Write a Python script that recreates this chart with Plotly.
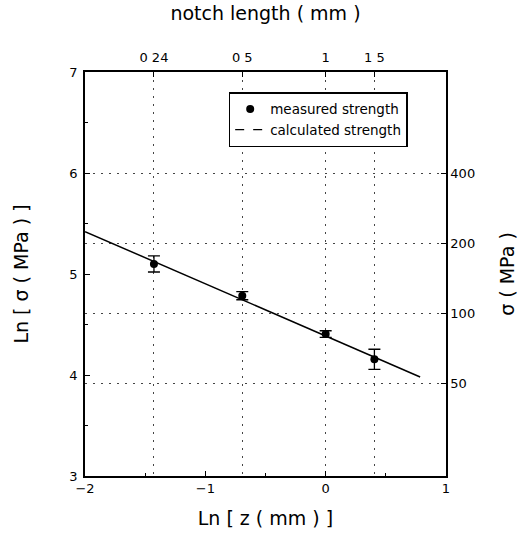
import numpy as np
import plotly.graph_objects as go

# Data
ln_z = [-1.427, -0.693, 0.0, 0.405]
ln_sigma = [5.10, 4.785, 4.405, 4.155]
err = [0.08, 0.04, 0.033, 0.10]

fit_x = [-2.0, 0.785]
fit_y = [5.42, 3.98]

notch_vals = [0.24, 0.5, 1, 1.5]
notch_text = ["0 24", "0 5", "1", "1 5"]
sigma_vals = [50, 100, 200, 400]
sigma_text = ["50", "100", "200", "400"]

FONT = "DejaVu Sans, Liberation Sans, Arial, sans-serif"

fig = go.Figure()

fig.add_trace(go.Scatter(
    x=fit_x, y=fit_y, mode="lines",
    line=dict(color="black", width=1.5), showlegend=False))

fig.add_trace(go.Scatter(
    x=ln_z, y=ln_sigma, mode="markers",
    marker=dict(color="black", size=8, symbol="circle"),
    error_y=dict(type="data", array=err, visible=True, color="black",
                 thickness=1.3, width=6),
    name="measured strength"))

fig.add_trace(go.Scatter(
    x=[None], y=[None], mode="lines",
    line=dict(color="black", width=1.3, dash="dash"),
    name="calculated strength"))

# dummy trace to activate secondary axes
fig.add_trace(go.Scatter(x=[None], y=[None], xaxis="x2", yaxis="y2", showlegend=False))

axis_common = dict(showline=True, linecolor="black", linewidth=1.5,
                   ticks="inside", tickcolor="black", ticklen=5,
                   tickfont=dict(family=FONT, size=13, color="black"),
                   zeroline=False, automargin=False)

GRID = dict(showgrid=True, gridcolor="#444", griddash="2px,6px", gridwidth=1)

fig.update_layout(
    width=519, height=547,
    margin=dict(l=85, r=73, t=72, b=71),
    paper_bgcolor="white", plot_bgcolor="white",
    font=dict(family=FONT, color="black"),
    xaxis=dict(range=[-2, 1], tickvals=[-2, -1, 0, 1], showgrid=False,
               minor=dict(ticks="inside", dtick=0.5, ticklen=3, tickcolor="black"),
               title=dict(text="Ln [ z ( mm ) ]", font=dict(size=19), standoff=16),
               **axis_common),
    xaxis2=dict(range=[-2, 1], overlaying="x", side="top",
                tickvals=list(np.log(notch_vals)), ticktext=notch_text,
                ticklabelstandoff=3,
                title=dict(text="notch length ( mm )", font=dict(size=19), standoff=24),
                **GRID, **axis_common),
    yaxis=dict(range=[3, 7], tickvals=[3, 4, 5, 6, 7], showgrid=False,
               minor=dict(ticks="inside", dtick=0.5, ticklen=3, tickcolor="black"),
               ticklabelstandoff=3,
               title=dict(text="Ln [ σ ( MPa ) ]", font=dict(size=19), standoff=36),
               **axis_common),
    yaxis2=dict(range=[3, 7], overlaying="y", side="right",
                tickvals=list(np.log(sigma_vals)), ticktext=sigma_text,
                title=dict(text="σ ( MPa )", font=dict(size=19), standoff=27),
                **GRID, **axis_common),
    legend=dict(x=0.398, y=0.95, xanchor="left", yanchor="top",
                bgcolor="white", bordercolor="black", borderwidth=1.5,
                font=dict(family=FONT, size=13.5, color="black"),
                tracegroupgap=0),
)

fig.write_html("out.html")
